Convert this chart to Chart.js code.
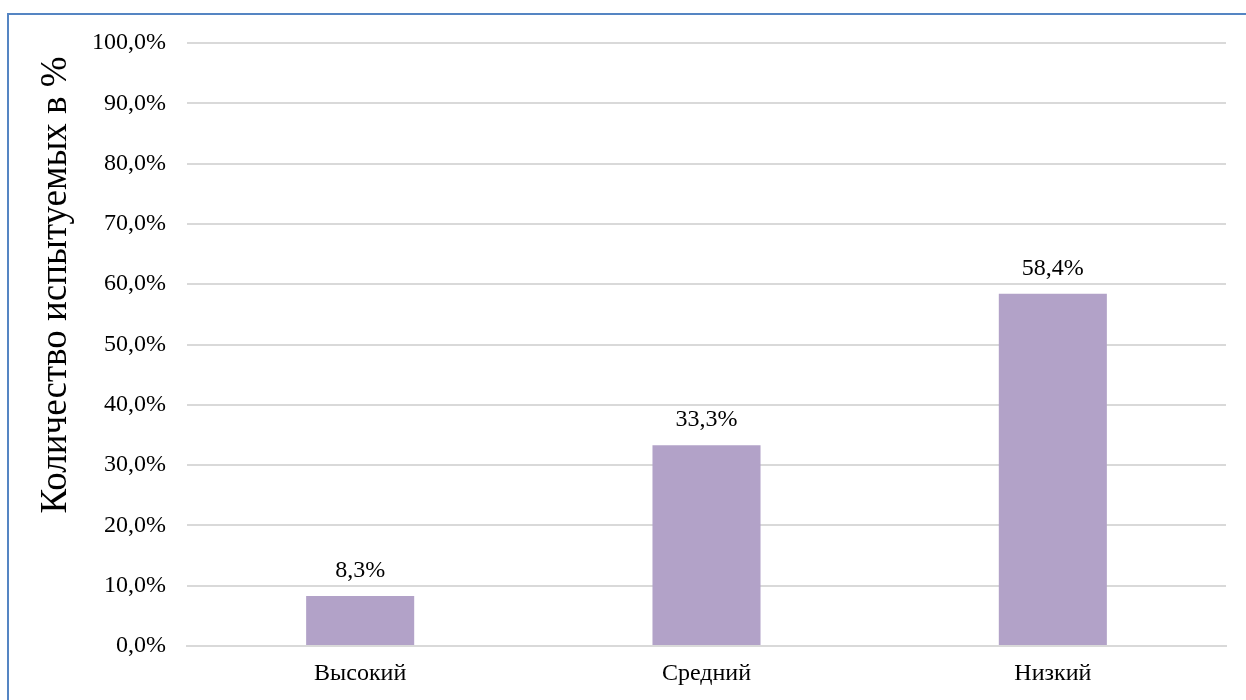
<!DOCTYPE html>
<html lang="ru">
<head>
<meta charset="utf-8">
<script src="https://cdn.jsdelivr.net/npm/chart.js@4/dist/chart.umd.min.js"></script>
<style>
  html, body { margin: 0; padding: 0; background: #fff; overflow: hidden; }
  .frame {
    position: absolute; left: 7px; top: 13px; width: 2000px; height: 2000px;
    border-left: 2px solid #5585c3; border-top: 2px solid #5585c3;
  }
  #chart { position: absolute; left: 0; top: 0; }
</style>
</head>
<body>
<div class="frame"></div>
<canvas id="chart" width="1246" height="700"></canvas>
<script>
const categories = ["Высокий", "Средний", "Низкий"];
const values = [8.3, 33.3, 58.4];
const yTitle = "Количество испытуемых в %";

const SERIF = "'Liberation Serif', 'Times New Roman', serif";
const fmtPct = (v) => v.toFixed(1).replace(".", ",") + "%";

// ---------- Plugins ----------
const barLabels = {
  id: "barLabels",
  afterDatasetsDraw(chart) {
    const ctx = chart.ctx;
    const meta = chart.getDatasetMeta(0);
    ctx.save();
    ctx.font = "24px " + SERIF;
    ctx.fillStyle = "#000";
    ctx.textAlign = "center";
    ctx.textBaseline = "middle";
    meta.data.forEach((bar, i) => {
      ctx.fillText(fmtPct(values[i]), bar.x, bar.y - 25);
    });
    ctx.restore();
  },
};

const axisTitle = {
  id: "axisTitle",
  afterDraw(chart) {
    const ctx = chart.ctx;
    ctx.save();
    ctx.translate(56, 285);
    ctx.rotate(-Math.PI / 2);
    ctx.font = "37px " + SERIF;
    ctx.fillStyle = "#000";
    ctx.textAlign = "center";
    ctx.textBaseline = "middle";
    ctx.fillText(yTitle, 0, 0);
    ctx.restore();
  },
};

// ---------- Chart ----------
new Chart(document.getElementById("chart"), {
  type: "bar",
  data: {
    labels: categories,
    datasets: [{
      data: values,
      backgroundColor: "#b2a2c8",
      borderWidth: 0,
      categoryPercentage: 0.312,
      barPercentage: 1,
    }],
  },
  options: {
    responsive: false,
    animation: false,
    layout: { padding: { top: 43, right: 20, left: 0, bottom: 0 } },
    plugins: { legend: { display: false }, tooltip: { enabled: false } },
    scales: {
      x: {
        grid: { display: false, drawTicks: false },
        border: { display: true, color: "#d9d9d9", width: 2 },
        ticks: { color: "#000", font: { family: SERIF, size: 24 }, padding: 13 },
        afterFit: (s) => { s.height = 54; },
      },
      y: {
        min: 0,
        max: 100,
        grid: { color: "#d9d9d9", lineWidth: 2, drawTicks: false },
        border: { display: false },
        ticks: {
          stepSize: 10,
          color: "#000",
          font: { family: SERIF, size: 24 },
          padding: 21,
          callback: (v) => fmtPct(v),
        },
        afterFit: (s) => { s.width = 187; },
      },
    },
  },
  plugins: [barLabels, axisTitle],
});
</script>
</body>
</html>
